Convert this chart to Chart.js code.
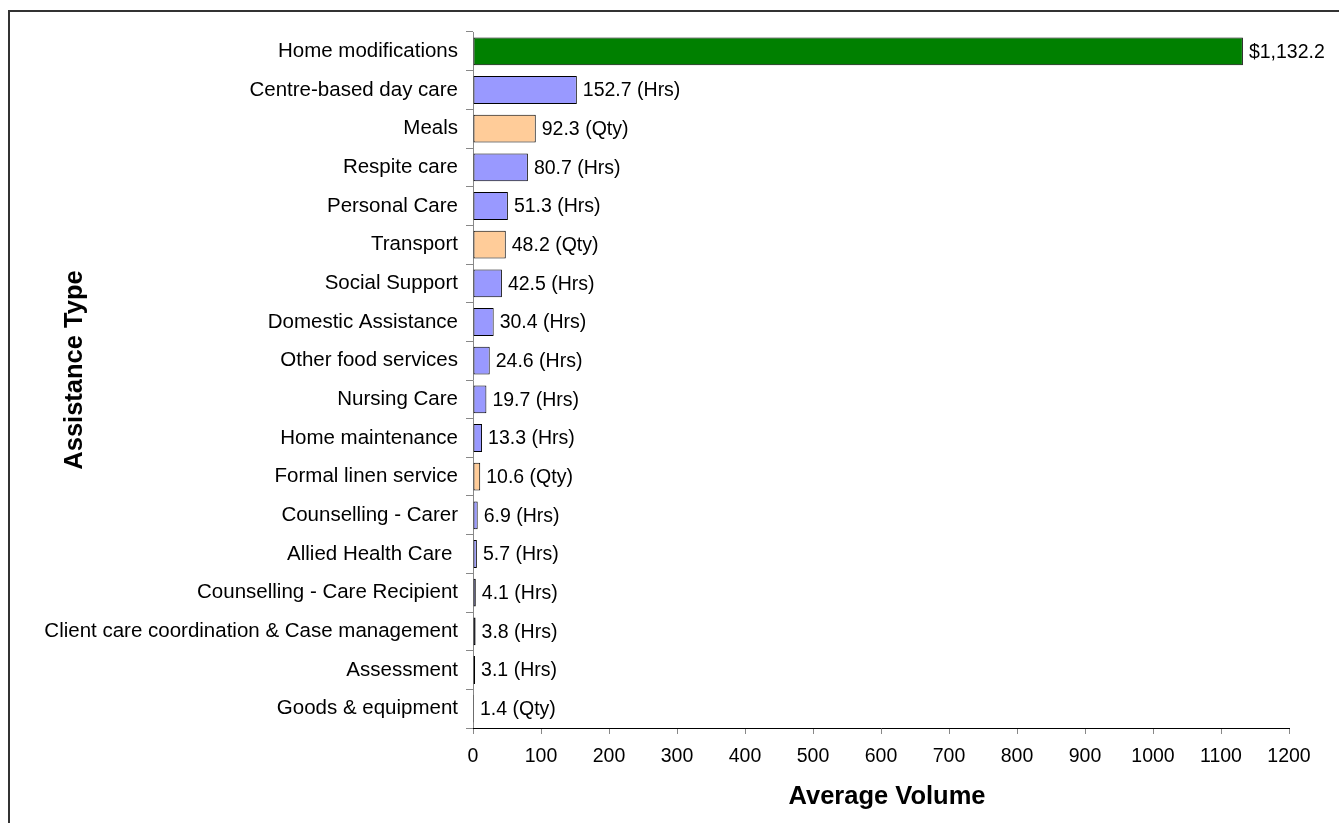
<!DOCTYPE html>
<html>
<head>
<meta charset="utf-8">
<script src="https://cdn.jsdelivr.net/npm/chart.js@4"></script>
<style>
  html, body { margin: 0; padding: 0; background: #fff; overflow: hidden; }
  #frame { position: absolute; left: 8px; top: 10px; width: 1400px; height: 900px;
           border-top: 2px solid #333; border-left: 2px solid #333; }
  #chart { position: absolute; left: 0; top: 0; }
</style>
</head>
<body>
<div id="frame"></div>
<canvas id="chart" width="1339" height="823"></canvas>
<script>
const categories = [
  'Home modifications', 'Centre-based day care', 'Meals', 'Respite care',
  'Personal Care', 'Transport', 'Social Support', 'Domestic Assistance',
  'Other food services', 'Nursing Care', 'Home maintenance', 'Formal linen service',
  'Counselling - Carer', 'Allied Health Care ', 'Counselling - Care Recipient',
  'Client care coordination & Case management', 'Assessment', 'Goods & equipment'
];
const values = [1132.2, 152.7, 92.3, 80.7, 51.3, 48.2, 42.5, 30.4, 24.6, 19.7, 13.3, 10.6, 6.9, 5.7, 4.1, 3.8, 3.1, 1.4];
const units = ['$', 'Hrs', 'Qty', 'Hrs', 'Hrs', 'Qty', 'Hrs', 'Hrs', 'Hrs', 'Hrs', 'Hrs', 'Qty', 'Hrs', 'Hrs', 'Hrs', 'Hrs', 'Hrs', 'Qty'];
const xTicks = [0, 100, 200, 300, 400, 500, 600, 700, 800, 900, 1000, 1100, 1200];
const yTitle = 'Assistance Type';
const xTitle = 'Average Volume';

const unitColors = { '$': '#008000', 'Hrs': '#9999FF', 'Qty': '#FFCC99' };
const FONT = '"Liberation Sans", Arial, sans-serif';

// value text at the end of each bar + the two axis titles
const barLabels = {
  id: 'barLabels',
  afterDatasetsDraw(chart) {
    const ctx = chart.ctx;
    const meta = chart.getDatasetMeta(0);
    ctx.save();
    ctx.font = '19.5px ' + FONT;
    ctx.fillStyle = '#000';
    ctx.textBaseline = 'middle';
    ctx.textAlign = 'left';
    meta.data.forEach((bar, i) => {
      let txt;
      if (units[i] === '$') {
        txt = '$' + values[i].toLocaleString('en-US', { minimumFractionDigits: 1, maximumFractionDigits: 1 });
      } else {
        txt = values[i].toFixed(1) + ' (' + units[i] + ')';
      }
      ctx.fillText(txt, bar.x + 6, bar.y + 1);
    });

    // axis titles
    ctx.font = 'bold 25.5px ' + FONT;
    ctx.textAlign = 'center';
    ctx.fillText(xTitle, 887, 797);
    ctx.translate(75, 370);
    ctx.rotate(-Math.PI / 2);
    ctx.fillText(yTitle, 0, 0);
    ctx.restore();
  }
};

new Chart(document.getElementById('chart'), {
  type: 'bar',
  data: {
    labels: categories,
    datasets: [{
      data: values,
      backgroundColor: units.map(u => unitColors[u]),
      borderColor: '#000',
      borderWidth: 1,
      borderSkipped: false,
      barPercentage: 0.72,
      categoryPercentage: 1
    }]
  },
  options: {
    indexAxis: 'y',
    responsive: false,
    animation: false,
    layout: { padding: { left: 0, top: 32, right: 50, bottom: 9 } },
    plugins: { legend: { display: false }, tooltip: { enabled: false } },
    scales: {
      y: {
        afterFit(scale) { scale.width = 473; },
        grid: { drawOnChartArea: false, tickLength: 7, color: '#888', offset: true },
        border: { color: '#888', width: 1 },
        ticks: { color: '#000', padding: 8, font: { family: FONT, size: 20.5 }, autoSkip: false }
      },
      x: {
        min: 0,
        max: 1200,
        afterFit(scale) { scale.height = 86; },
        afterBuildTicks(scale) { scale.ticks = xTicks.map(v => ({ value: v })); },
        grid: { drawOnChartArea: false, tickLength: 6, color: '#888' },
        border: { color: '#000', width: 1 },
        ticks: {
          color: '#000', padding: 11, maxRotation: 0,
          font: { family: FONT, size: 19.5 },
          callback: v => String(v)
        }
      }
    }
  },
  plugins: [barLabels]
});
</script>
</body>
</html>
